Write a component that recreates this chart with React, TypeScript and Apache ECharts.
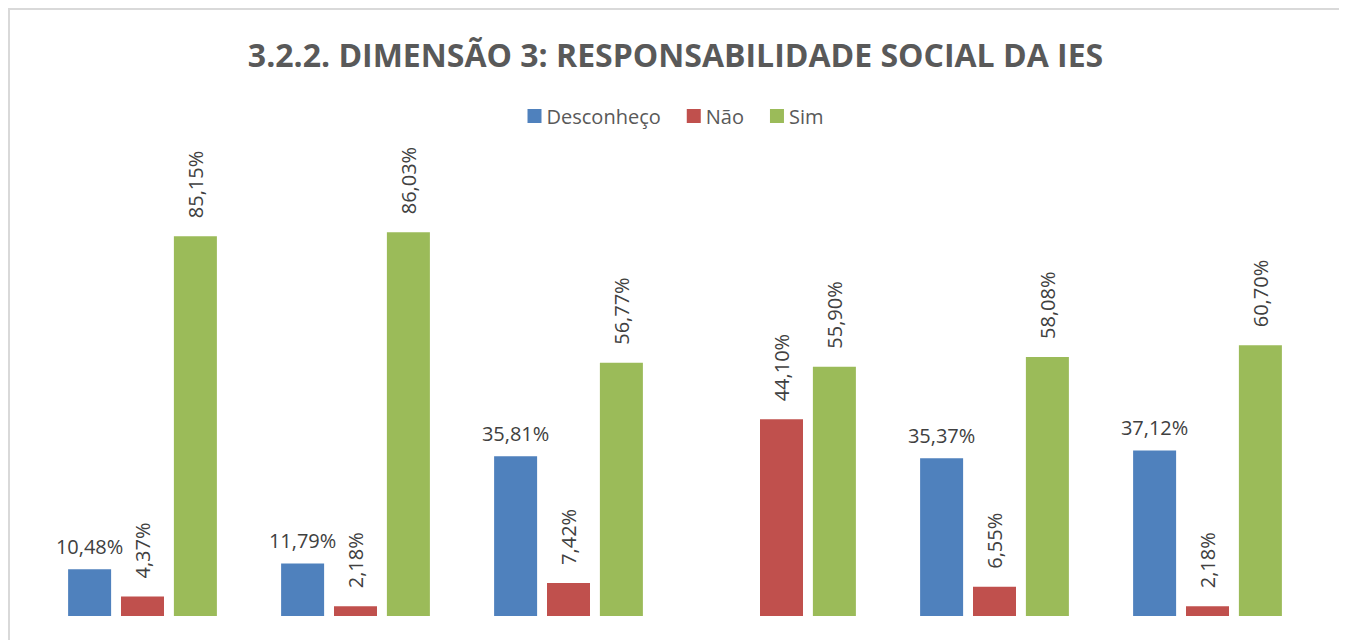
import React, { useEffect, useRef } from "react";
import * as echarts from "echarts";

const categories = ["Item 1", "Item 2", "Item 3", "Item 4", "Item 5", "Item 6"];
const desconheco: (number | null)[] = [10.48, 11.79, 35.81, null, 35.37, 37.12];
const nao = [4.37, 2.18, 7.42, 44.1, 6.55, 2.18];
const sim = [85.15, 86.03, 56.77, 55.9, 58.08, 60.7];

const fmt = (v: number) => v.toFixed(2).replace(".", ",") + "%";

export default function App() {
  const ref = useRef<HTMLDivElement>(null);
  useEffect(() => {
    if (!ref.current) return;
    const chart = echarts.init(ref.current, undefined, { renderer: "svg" });
    const font = "'Open Sans', 'Noto Sans', sans-serif";
    const hLabel = {
      show: true,
      position: "top" as const,
      distance: 13,
      color: "#404040",
      fontSize: 20,
      fontFamily: font,
      formatter: (p: any) => fmt(p.value),
    };
    const vLabel = {
      show: true,
      position: "top" as const,
      distance: 18,
      rotate: 90,
      align: "left" as const,
      verticalAlign: "middle" as const,
      color: "#404040",
      fontSize: 20,
      fontFamily: font,
      formatter: (p: any) => fmt(p.value),
    };
    chart.setOption({
      animation: false,
      backgroundColor: "#ffffff",
      title: {
        text: "3.2.2. DIMENSÃO 3: RESPONSABILIDADE SOCIAL DA IES",
        left: "center",
        top: 23,
        textStyle: {
          color: "#595959",
          fontSize: 32,
          fontWeight: "bold",
          fontFamily: font,
        },
      },
      legend: {
        top: 91,
        left: "center",
        itemWidth: 14,
        itemHeight: 14,
        itemGap: 26,
        icon: "rect",
        textStyle: { color: "#595959", fontSize: 20, fontFamily: font },
        data: ["Desconheço", "Não", "Sim"],
      },
      grid: { left: 26, right: 27, top: 160, bottom: 24, containLabel: false },
      xAxis: {
        type: "category",
        data: categories,
        axisLine: { show: false },
        axisTick: { show: false },
        axisLabel: { show: false },
      },
      yAxis: {
        type: "value",
        min: 0,
        max: 100,
        show: false,
        splitLine: { show: false },
      },
      series: [
        {
          name: "Desconheço",
          type: "bar",
          data: desconheco,
          itemStyle: { color: "#4F81BD" },
          barWidth: 43,
          barGap: "23%",
          label: hLabel,
        },
        {
          name: "Não",
          type: "bar",
          data: nao,
          itemStyle: { color: "#C0504D" },
          barWidth: 43,
          barGap: "23%",
          label: vLabel,
        },
        {
          name: "Sim",
          type: "bar",
          data: sim,
          itemStyle: { color: "#9BBB59" },
          barWidth: 43,
          barGap: "23%",
          label: vLabel,
        },
      ],
    });
    return () => chart.dispose();
  }, []);
  return (
    <div
      style={{
        width: 1331,
        height: 630,
        border: "2px solid #d9d9d9",
        borderBottom: "none",
        background: "#fff",
      }}
    >
      <div ref={ref} style={{ width: 1331, height: 630 }} />
    </div>
  );
}
